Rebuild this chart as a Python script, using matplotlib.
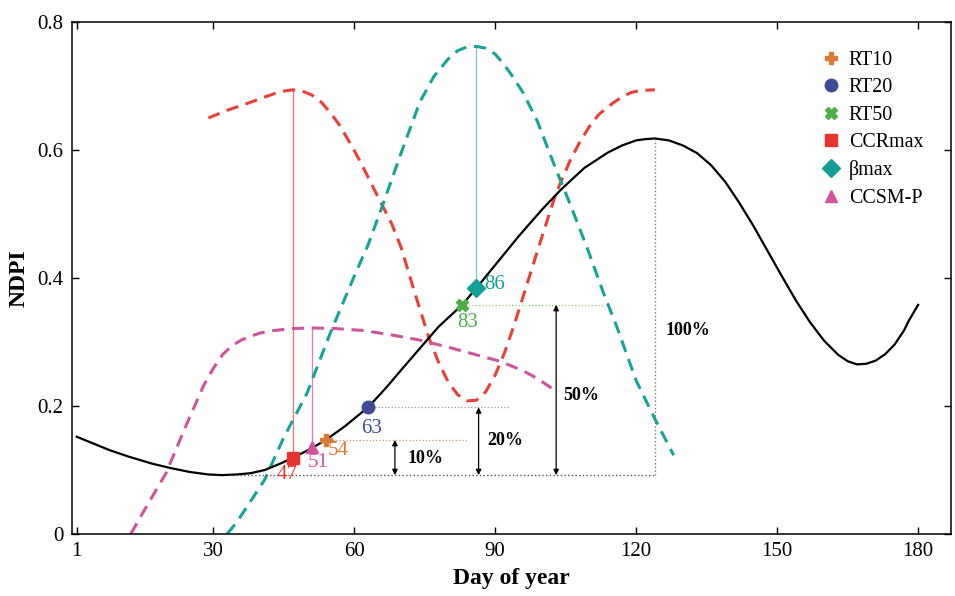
import matplotlib
matplotlib.use("Agg")
import matplotlib.pyplot as plt

plt.rcParams['font.family'] = ['Liberation Serif', 'DejaVu Serif']

# NDPI curve (black)
ndpi_day = [1, 4, 8, 12, 17, 21, 25, 29, 32, 35, 38, 41, 44, 47, 51, 54, 58, 63, 67, 70,
            74, 78, 83, 86, 90, 95, 100, 104, 109, 114, 117, 120, 122, 124, 127, 130, 133,
            136, 139, 142, 145, 148, 151, 154, 157, 160, 163, 165, 167, 169, 171, 173, 175,
            177, 178, 180]
ndpi_val = [0.152, 0.143, 0.131, 0.121, 0.110, 0.103, 0.097, 0.093, 0.092, 0.093, 0.095,
            0.100, 0.109, 0.119, 0.134, 0.147, 0.168, 0.198, 0.230, 0.256, 0.290, 0.324,
            0.358, 0.384, 0.420, 0.465, 0.507, 0.538, 0.572, 0.596, 0.607, 0.615, 0.617,
            0.618, 0.615, 0.607, 0.595, 0.576, 0.550, 0.517, 0.481, 0.442, 0.403, 0.365,
            0.331, 0.302, 0.280, 0.270, 0.265, 0.266, 0.271, 0.281, 0.296, 0.318, 0.333,
            0.358]

# CCR curve (red dashed)
ccr_day = [29, 33, 37, 40, 43, 45, 47, 49, 51, 53, 55, 57, 60, 62, 65, 68, 70, 73, 76, 78,
           80, 82, 84, 86, 88, 90, 92, 94, 97, 100, 103, 106, 108, 110, 112, 115, 117, 119,
           121, 124]
ccr_val = [0.650, 0.662, 0.672, 0.680, 0.688, 0.692, 0.694, 0.692, 0.686, 0.675, 0.658,
           0.638, 0.600, 0.572, 0.528, 0.485, 0.448, 0.375, 0.305, 0.268, 0.238, 0.218,
           0.208, 0.209, 0.222, 0.248, 0.283, 0.325, 0.395, 0.465, 0.533, 0.584, 0.612,
           0.636, 0.655, 0.673, 0.683, 0.690, 0.693, 0.694]

# beta curve (teal dashed)
beta_day = [33, 35, 37, 41, 45, 50, 55, 60, 63, 66, 70, 74, 77, 80, 82, 84, 86, 88, 90,
            92, 94, 96, 99, 103, 106, 110, 113, 116, 120, 124, 128]
beta_val = [0.000, 0.018, 0.040, 0.085, 0.150, 0.220, 0.315, 0.402, 0.452, 0.512, 0.595,
            0.675, 0.715, 0.742, 0.755, 0.761, 0.762, 0.759, 0.750, 0.733, 0.712, 0.689,
            0.645, 0.569, 0.515, 0.439, 0.378, 0.322, 0.240, 0.180, 0.123]

# CCSM curve (pink dashed)
ccsm_day = [12.5, 16, 20, 24, 28, 30, 32, 34, 36, 38, 40, 43, 47, 51, 56, 62, 68, 74, 80,
            86, 91, 96, 99, 102]
ccsm_val = [0.000, 0.045, 0.095, 0.165, 0.232, 0.258, 0.280, 0.294, 0.303, 0.309, 0.314,
            0.318, 0.321, 0.322, 0.321, 0.318, 0.311, 0.303, 0.292, 0.280, 0.270, 0.255,
            0.243, 0.228]

# key dates
labels = ['RT10', 'RT20', 'RT50', 'CCRmax', 'βmax', 'CCSM-P']
dates = [54, 63, 83, 47, 86, 51]
date_vals = [0.147, 0.198, 0.358, 0.119, 0.384, 0.136]
markers = ['P', 'o', 'X', 's', 'D', '^']
colors = ['#DB7A35', '#3F4A99', '#4DAE48', '#E8332E', '#149E98', '#D3529C']

base = 0.092
peak_day, peak = 124, 0.618
ccr_max, beta_max, ccsm_max = 0.694, 0.762, 0.322

fig = plt.figure(figsize=(9.55, 5.96), dpi=100)
ax = fig.add_axes([72 / 955, 62 / 596, 879 / 955, 512 / 596])

# vertical guide lines from each key date up to its curve
ax.plot([47, 47], [0.119, ccr_max], color='#E8776F', lw=0.9)
ax.plot([51, 51], [0.136, ccsm_max], color='#DE7FB8', lw=0.9)
ax.plot([86, 86], [0.384, beta_max], color='#7FC8C4', lw=0.9)

dash = (0, (4, 2.5))
ax.plot(ccr_day, ccr_val, color='#E8403A', lw=2.2, ls=dash)
ax.plot(beta_day, beta_val, color='#17A397', lw=2.2, ls=dash)
ax.plot(ccsm_day, ccsm_val, color='#CC559C', lw=2.2, ls=dash)
ax.plot(ndpi_day, ndpi_val, color='black', lw=1.6)

# dotted reference lines
ax.plot([33.5, peak_day], [base, base], color='#555555', lw=1, ls=':')
ax.plot([peak_day, peak_day], [base, peak], color='#777777', lw=1, ls=':')
ax.plot([54, 84], [0.147, 0.147], color='#C89A70', lw=0.9, ls=':')
ax.plot([63, 93], [0.198, 0.198], color='#999999', lw=0.9, ls=':')
ax.plot([83, 113], [0.358, 0.358], color='#8CCB7F', lw=0.9, ls=':')

arrow = dict(arrowstyle='<|-|>', color='black', lw=0.9, mutation_scale=8,
             shrinkA=0, shrinkB=0)
ax.annotate('', xy=(68.7, base), xytext=(68.7, 0.147), arrowprops=arrow)
ax.annotate('', xy=(86.5, base), xytext=(86.5, 0.198), arrowprops=arrow)
ax.annotate('', xy=(103, base), xytext=(103, 0.358), arrowprops=arrow)

pct_style = dict(fontsize=13, fontweight='bold', va='center', ha='left')
ax.text(71.3, 0.118, '10%', **pct_style)
ax.text(88.3, 0.146, '20%', **pct_style)
ax.text(104.6, 0.217, '50%', **pct_style)
ax.text(126.3, 0.318, '100%', **pct_style)

for lab, d, v, m, c in zip(labels, dates, date_vals, markers, colors):
    ax.plot(d, v, ls='none', marker=m, color=c, ms=9 if m != 'P' else 8,
            markeredgecolor=c, label=lab, zorder=5)

num_pos = [(56.6, 0.130), (63.7, 0.165), (84.2, 0.330), (45.8, 0.093), (90.0, 0.390),
           (52.3, 0.111)]
for d, c, (tx, ty) in zip(dates, colors, num_pos):
    ax.text(tx, ty, str(d), color=c, fontsize=15, ha='center', va='center')

ax.legend(loc='upper left', bbox_to_anchor=(0.829, 0.979), frameon=False, fontsize=14.4,
          handletextpad=0.3, labelspacing=0.42, handlelength=1.2, borderpad=0.4)

ax.set_xlim(0, 187)
ax.set_ylim(0, 0.8)
ax.set_xticks([1, 30, 60, 90, 120, 150, 180])
ax.set_yticks([0, 0.2, 0.4, 0.6, 0.8])
ax.set_yticklabels(['0', '0.2', '0.4', '0.6', '0.8'])
ax.tick_params(direction='in', top=True, right=True, labelsize=15, length=5, width=1,
               pad=6)
for s in ax.spines.values():
    s.set_linewidth(1.1)
ax.set_xlabel('Day of year', fontsize=17, fontweight='bold', labelpad=5)
ax.set_ylabel('NDPI', fontsize=17, fontweight='bold', labelpad=6)

fig.savefig('out.png', dpi=100)
